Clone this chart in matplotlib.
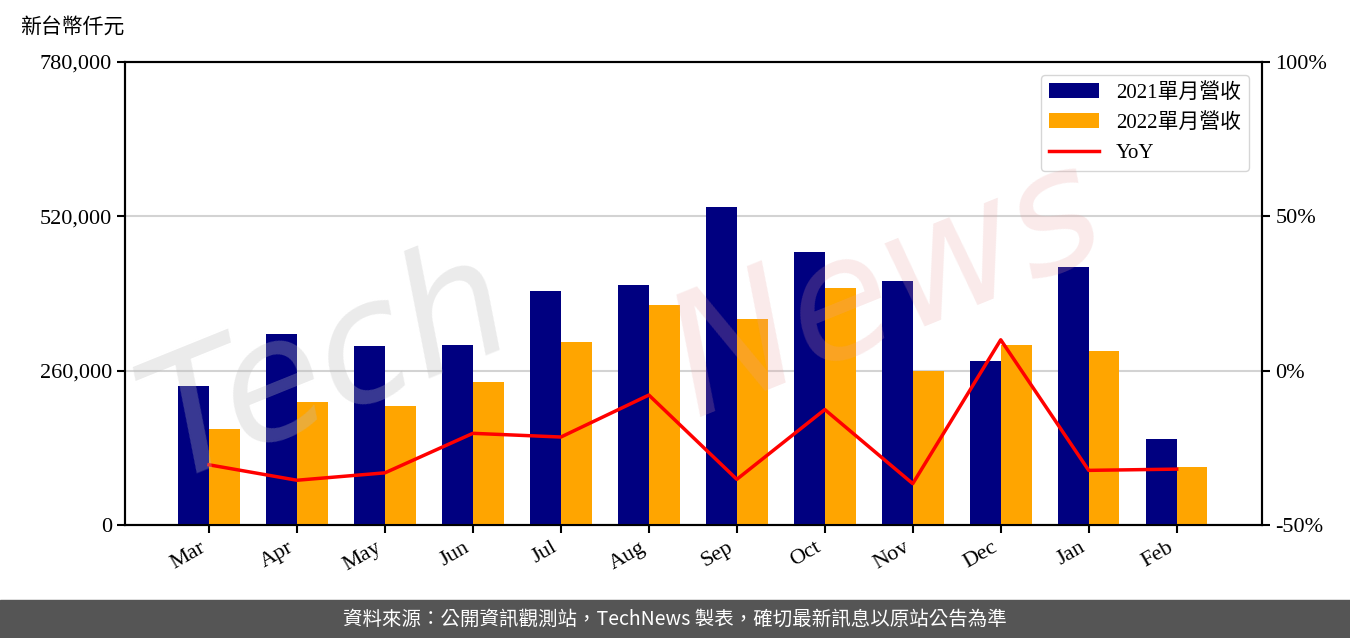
import matplotlib
matplotlib.use('Agg')
import numpy as np
import matplotlib.pyplot as plt
from matplotlib.ticker import FuncFormatter, FixedLocator

# data
months = ['Mar', 'Apr', 'May', 'Jun', 'Jul', 'Aug', 'Sep', 'Oct', 'Nov', 'Dec', 'Jan', 'Feb']
rev_2021 = [234200, 321800, 301600, 303200, 394200, 404300, 535700, 459900, 411100, 276300, 434600, 144900]
rev_2022 = [161700, 207200, 200500, 240900, 308300, 370600, 347000, 399300, 259400, 303200, 293100, 97700]
yoy = [-30.5, -35.5, -33.1, -20.3, -21.5, -7.9, -35.2, -12.6, -36.6, 10.0, -32.3, -31.9]

left_ticks = [0, 260000, 520000, 780000]
right_ticks = [-50, 0, 50, 100]

fonts = ['Liberation Serif', 'Noto Sans CJK TC', 'DejaVu Sans']
plt.rcParams['font.family'] = fonts

fig = plt.figure(figsize=(13.5, 6.38), dpi=100)
ax1 = fig.add_axes([125/1350, 1 - 525/638, (1262-125)/1350, (525-62)/638])
ax2 = ax1.twinx()

x = np.arange(len(months))
w = 0.35
ax1.bar(x - w/2, rev_2021, w, color='#000080', label='2021單月營收', zorder=3)
ax1.bar(x + w/2, rev_2022, w, color='#FFA500', label='2022單月營收', zorder=3)
ax2.plot(x, yoy, color='#FF0000', linewidth=2.5, label='YoY', zorder=4)

ax1.set_xlim(-0.955, 11.97)
ax1.set_ylim(0, 780000)
ax2.set_ylim(-50, 100)
ax1.yaxis.set_major_locator(FixedLocator(left_ticks))
ax2.yaxis.set_major_locator(FixedLocator(right_ticks))
ax1.yaxis.set_major_formatter(FuncFormatter(lambda v, p: f'{int(v):,}'))
ax2.yaxis.set_major_formatter(FuncFormatter(lambda v, p: f'{int(v)}%'))

ax1.set_xticks(x)
ax1.set_xticklabels(months, rotation=30, ha='right', fontsize=16)
ax1.tick_params(axis='y', labelsize=16, length=6, width=1.5)
ax1.tick_params(axis='x', length=6, width=1.5)
ax2.tick_params(axis='y', labelsize=16, length=6, width=1.5)

ax1.grid(axis='y', color='#d3d3d3', linewidth=1.5, zorder=0)
ax1.set_axisbelow(True)
for ax in (ax1, ax2):
    for s in ax.spines.values():
        s.set_linewidth(1.5)

h1, l1 = ax1.get_legend_handles_labels()
h2, l2 = ax2.get_legend_handles_labels()
leg = ax2.legend(h1 + h2, l1 + l2, loc='upper right', fontsize=15,
                 frameon=True, edgecolor='#cccccc', borderaxespad=0.6,
                 handlelength=2.4)
leg.set_zorder(10)

fig.text(20/1350, 1 - 28/638, '新台幣仟元', fontsize=15, va='center', ha='left')

# watermark
fig.text(0.09, 0.25, 'Tech', fontsize=120, rotation=22, color='#bdbdbd', alpha=0.3,
         family='DejaVu Sans', fontstyle='italic', zorder=20)
fig.text(0.48, 0.35, 'News', fontsize=120, rotation=22, color='#e8a0a0', alpha=0.22,
         family='DejaVu Sans', fontstyle='italic', zorder=20)

# footer band
fig.patches.append(plt.Rectangle((0, 0), 1, 38/638, transform=fig.transFigure,
                                 color='#555555', zorder=0))
fig.text(0.5, 19/638, '資料來源：公開資訊觀測站，TechNews 製表，確切最新訊息以原站公告為準',
         color='white', fontsize=14, ha='center', va='center',
         family=['Noto Sans CJK TC', 'DejaVu Sans'])

fig.savefig('out.png', dpi=100)
